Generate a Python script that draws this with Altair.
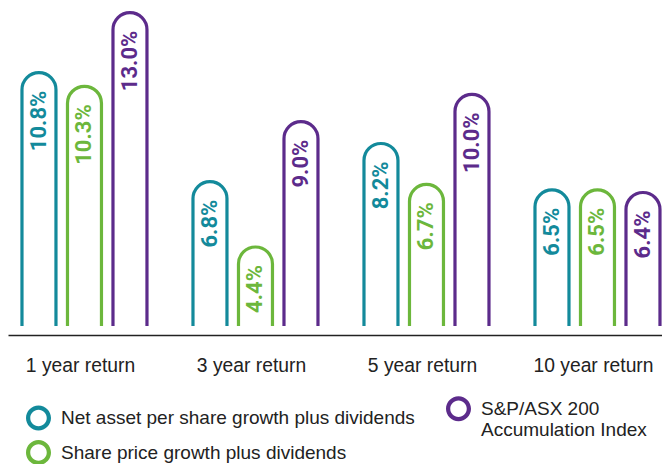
import altair as alt
import pandas as pd

periods = ["1 year return", "3 year return", "5 year return", "10 year return"]
series = [
    "Net asset per share growth plus dividends",
    "Share price growth plus dividends",
    "S&P/ASX 200 Accumulation Index",
]
nav_values = [10.8, 6.8, 8.2, 6.5]
share_values = [10.3, 4.4, 6.7, 6.5]
index_values = [13.0, 9.0, 10.0, 6.4]
colors = ["#138a9b", "#6cb73c", "#5c2b8b"]

rows = []
for i, p in enumerate(periods):
    for s, vals in zip(series, [nav_values, share_values, index_values]):
        rows.append({"period": p, "series": s, "value": vals[i], "label": f"{vals[i]:.1f}%"})
df = pd.DataFrame(rows)

# ring-shaped legend symbol (filled annulus in the -1..1 unit box)
ring_path = (
    "M -1 0 A 1 1 0 1 0 1 0 A 1 1 0 1 0 -1 0 Z "
    "M -0.66 0 A 0.66 0.66 0 1 1 0.66 0 A 0.66 0.66 0 1 1 -0.66 0 Z"
)

legend = alt.Legend(
    title=None, orient="none", legendX=18, legendY=386, columns=2,
    columnPadding=31, rowPadding=-7, padding=0,
    symbolType=ring_path, symbolSize=625, symbolStrokeWidth=0,
    labelFont="Liberation Sans", labelFontSize=19,
    labelColor="#222222", labelLimit=600, labelOffset=10,
    labelExpr="datum.label == 'S&P/ASX 200 Accumulation Index' ? ['S&P/ASX 200', 'Accumulation Index'] : datum.label",
)
color_enc = alt.Color("series:N", scale=alt.Scale(domain=series, range=colors), legend=legend)
fill_enc = alt.Fill("series:N", scale=alt.Scale(domain=series, range=colors), legend=None)

x_enc = alt.X(
    "period:N",
    sort=periods,
    scale=alt.Scale(paddingInner=0.2515, paddingOuter=0.038, align=0.96),
    axis=alt.Axis(
        title=None, labelAngle=0, domain=True, domainColor="#222222", domainWidth=1.6,
        offset=9, ticks=False, tickSize=0, labelPadding=21, labelOffset=-4,
        labelFont="Liberation Sans", labelFontSize=19.3, labelColor="#222222",
    ),
)
xo_enc = alt.XOffset("series:N", sort=series, scale=alt.Scale(paddingInner=0.253, paddingOuter=0.033))
y_enc = alt.Y("value:Q", scale=alt.Scale(domain=[1.5, 13.1], nice=False, zero=False), axis=None)

bars = alt.Chart(df).mark_bar(
    clip=True, filled=False, strokeWidth=3.2,
    cornerRadiusTopLeft=17, cornerRadiusTopRight=17,
).encode(
    x=x_enc, xOffset=xo_enc, y=y_enc, y2=alt.datum(0), color=color_enc,
)

labels = alt.Chart(df).mark_text(
    angle=270, align="right", baseline="middle", dx=-18,
    font="Roboto", fontWeight="bold", fontSize=22,
).encode(
    x=x_enc, xOffset=xo_enc, y=y_enc, text="label:N", fill=fill_enc,
)

chart = alt.layer(bars, labels).properties(
    width=654, height=316,
    padding={"left": 0, "top": 2, "right": 0, "bottom": 138},
    autosize=alt.AutoSizeParams(type="none"),
).configure_view(stroke=None)

chart.save("out.html", embed_options={"renderer": "svg", "actions": False})
